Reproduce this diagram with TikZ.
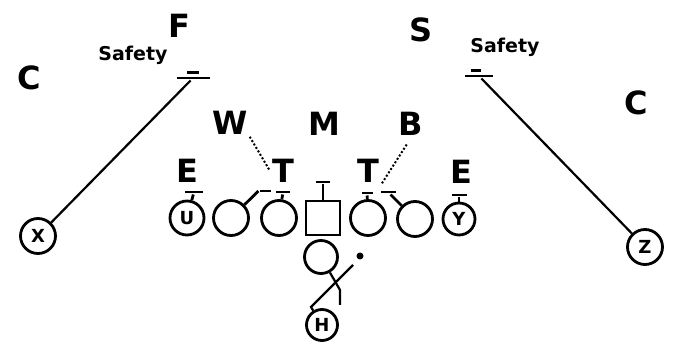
\documentclass[tikz,border=0pt]{standalone}
\usepackage{fontspec}
\setmainfont{DejaVu Sans}

\begin{document}
\begin{tikzpicture}[x=1pt, y=-1pt, line width=2.2pt,
    big/.style={inner sep=1pt, font=\fontsize{32}{32}\selectfont\bfseries},
    tag/.style={anchor=base, inner sep=0pt, font=\fontsize{19}{19}\selectfont\bfseries},
    man/.style={circle, draw, line width=2.8pt, minimum size=35pt, inner sep=0pt,
        font=\fontsize{18}{18}\selectfont\bfseries},
    ctr/.style={rectangle, draw, line width=2.8pt, minimum size=34pt, inner sep=0pt},
    bar/.style={fill, inner sep=0pt, minimum width=#1, minimum height=2.8pt},
    bar/.default=15pt,
    blk/.style={line width=2.8pt},
    read/.style={dotted, line width=2pt},
    dot/.style={circle, fill, inner sep=0pt, minimum size=7pt}]
    \useasboundingbox (0,0) rectangle (673,342);

    % Defense
    \node[big] (cl) at (29,78) {C};
    \node[big] (f) at (179,26) {F};
    \node[tag] (fsaf) at (133,61) {Safety};
    \node[big] (s) at (421,30) {S};
    \node[tag] (ssaf) at (505,53) {Safety};
    \node[big] (cr) at (636,103) {C};
    \node[big] (w) at (230,123) {W};
    \node[big] (m) at (324,124) {M};
    \node[big] (b) at (411,124) {B};
    \node[big] (tl) at (283,171) {T};
    \node[big] (tr) at (368,171) {T};
    \node[big] (el) at (187,171) {E};
    \node[big] (er) at (461,172) {E};

    % Safety spots
    \node[bar=33pt] (fs) at (193,78) {};
    \node[bar=12pt, minimum height=3pt] at (193,73) {};
    \node[bar=28pt] (ss) at (479,76) {};
    \node[bar=10pt, minimum height=3pt] at (476,71) {};

    % Offense
    \node[man] (x) at (38,236) {X};
    \node[man] (z) at (645,247) {Z};
    \node[man, minimum size=34pt] (u) at (187,218) {U};
    \node[man] (lg) at (231,218) {};
    \node[man] (lt) at (279,218) {};
    \node[ctr] (c) at (323,218) {};
    \node[man] (rt) at (368,218) {};
    \node[man] (rg) at (415,219) {};
    \node[man, minimum size=32pt] (y) at (459,219) {Y};
    \node[man, minimum size=33pt] (qb) at (321,257) {};
    \node[man, minimum size=31pt] (h) at (322,325) {H};
    \node[dot] (ball) at (360,256) {};

    % Routes of the wide outs
    \draw (x) -- (fs);
    \draw (z) -- (ss);

    % Blocks on the line
    \node[bar=18pt] (ub) at (194,192) {};
    \node[bar=11pt] (lgb) at (265,191) {};
    \node[bar=14pt] (ltb) at (283,192) {};
    \node[bar=14pt] (cb) at (323,182) {};
    \node[bar=11pt] (rtb) at (367,193) {};
    \node[bar=15pt] (rgb) at (388,192) {};
    \node[bar=15pt] (yb) at (459,195) {};
    \draw[blk] (u) -- (ub);
    \draw[blk] (lg) -- (lgb.west);
    \draw[blk] (lt) -- (ltb);
    \draw[blk] (c) -- (cb);
    \draw[blk] (rt) -- (rtb);
    \draw[blk] (rg) -- (rgb);
    \draw[blk] (y) -- (yb);

    % Reads of the tackles
    \draw[read] (w.south east) -- (tl.west);
    \draw[read, shorten <=8pt] (b.south) -- (tr.south east);

    % Backfield
    \coordinate (hk) at (311,307);
    \coordinate (hr) at (353,265);
    \draw (h) -- (hk) -- (hr);
    \coordinate (qd) at (340,290);
    \coordinate (qe) at (340,305);
    \draw (qb) -- (qd) -- (qe);

\end{tikzpicture}
\end{document}
